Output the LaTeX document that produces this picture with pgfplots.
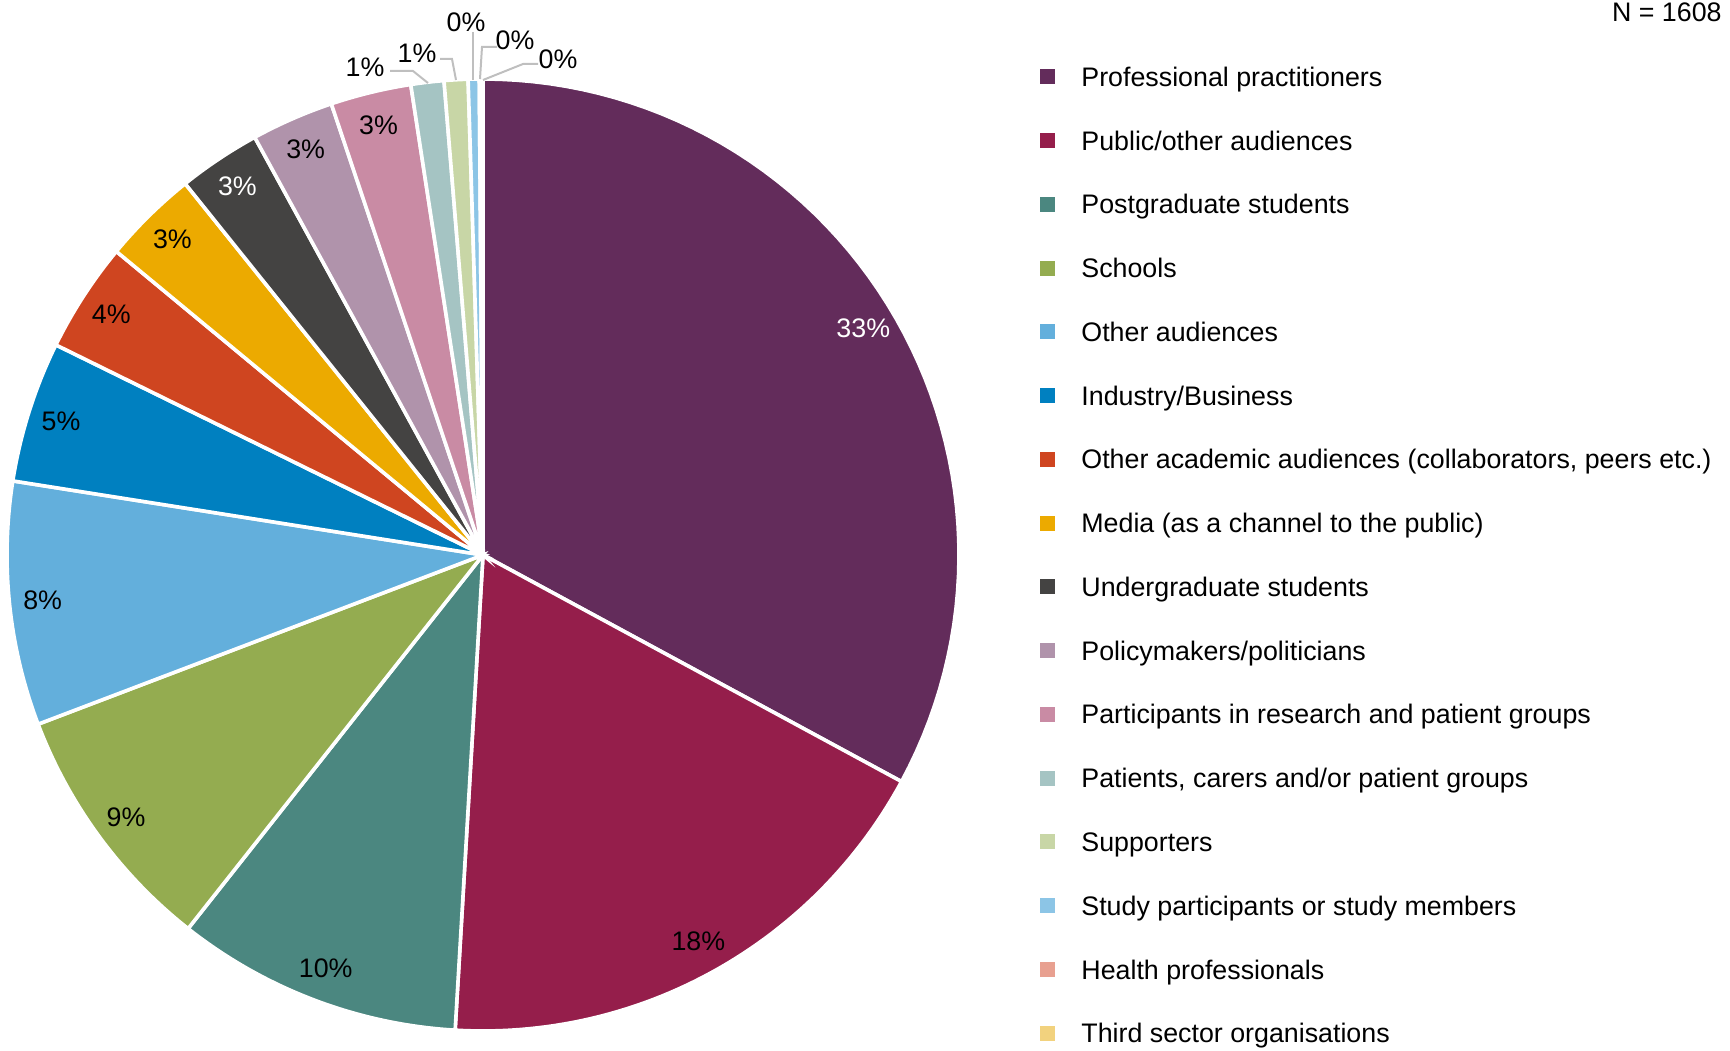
\documentclass[border=0pt]{standalone}
\usepackage{fontspec}
\setmainfont{Liberation Sans}
\usepackage{pgfplots}
\pgfplotsset{compat=1.18}
\usepackage{pgfplotstable}

\definecolor{c1}{HTML}{632C5B}
\definecolor{c2}{HTML}{951E4B}
\definecolor{c3}{HTML}{4B8780}
\definecolor{c4}{HTML}{94AC50}
\definecolor{c5}{HTML}{63AFDC}
\definecolor{c6}{HTML}{0080C0}
\definecolor{c7}{HTML}{CF4520}
\definecolor{c8}{HTML}{ECAA00}
\definecolor{c9}{HTML}{444342}
\definecolor{c10}{HTML}{B093AB}
\definecolor{c11}{HTML}{C98BA4}
\definecolor{c12}{HTML}{A5C4C3}
\definecolor{c13}{HTML}{C8D6A6}
\definecolor{c14}{HTML}{8CC5E6}
\definecolor{c15}{HTML}{E8A090}
\definecolor{c16}{HTML}{F2D27E}
\definecolor{leader}{HTML}{BFBFBF}

% counts out of N = 1608
\pgfplotstableread[col sep=semicolon,row sep=\\]{
name;n;pct;col;txt;inner\\
Professional practitioners;529;33;c1;white;1\\
Public/other audiences;290;18;c2;black;1\\
Postgraduate students;156;10;c3;black;1\\
Schools;138;9;c4;black;1\\
Other audiences;133;8;c5;black;1\\
Industry/Business;77;5;c6;black;1\\
Other academic audiences (collaborators, peers etc.);60;4;c7;black;1\\
Media (as a channel to the public);52;3;c8;black;1\\
Undergraduate students;45;3;c9;white;1\\
Policymakers/politicians;45;3;c10;black;1\\
Participants in research and patient groups;44;3;c11;black;1\\
Patients, carers and/or patient groups;18;1;c12;black;0\\
Supporters;13;1;c13;black;0\\
Study participants or study members;6;0;c14;black;0\\
Health professionals;1;0;c15;black;0\\
Third sector organisations;1;0;c16;black;0\\
}\pietable

\begin{document}
\begin{tikzpicture}[font=\fontsize{13.4}{16}\selectfont]
\useasboundingbox (0,0) rectangle (865pt,525pt);
\begin{axis}[x=238pt,y=238pt,xmin=-1,xmax=1,ymin=-1,ymax=1,
  hide axis,clip=false,anchor=south west,at={(3.5pt,9.5pt)}]
\def\cum{0}
\pgfplotsforeachungrouped \i in {0,...,15}{%
  \pgfplotstablegetelem{\i}{n}\of\pietable \let\val\pgfplotsretval
  \pgfplotstablegetelem{\i}{col}\of\pietable \let\col\pgfplotsretval
  \pgfplotstablegetelem{\i}{txt}\of\pietable \let\txt\pgfplotsretval
  \pgfplotstablegetelem{\i}{pct}\of\pietable \let\pct\pgfplotsretval
  \pgfplotstablegetelem{\i}{inner}\of\pietable \let\inner\pgfplotsretval
  \pgfmathsetmacro\aa{90-\cum/1608*360}%
  \pgfmathsetmacro\bb{90-(\cum+\val)/1608*360}%
  \pgfmathsetmacro\mid{(\aa+\bb)/2}%
  \pgfmathtruncatemacro\cum{\cum+\val}%
  \edef\cmd{\noexpand\addplot[draw=white,line width=1.8pt,fill=\col,
    domain=\bb:\aa,samples=60] ({cos(x)},{sin(x)}) -- (axis cs:0,0) -- cycle;}%
  \cmd
  \ifnum\inner=1
    \edef\cmd{\noexpand\node[text=\txt] at (axis cs:{0.93*cos(\mid)},{0.93*sin(\mid)}) {\pct\noexpand\%};}%
    \cmd
  \fi
}
\end{axis}

% labels of the thin slices, with leader lines
\draw[leader,line width=1pt] (195pt,489.5pt) -- (206.5pt,489.5pt) -- (214pt,483.5pt);
\node at (182.5pt,491.5pt) {1\%};
\draw[leader,line width=1pt] (220pt,495.5pt) -- (226pt,495.5pt) -- (228pt,485pt);
\node at (208.5pt,498.5pt) {1\%};
\draw[leader,line width=1pt] (236.5pt,509pt) -- (236.5pt,485pt);
\node at (233pt,514pt) {0\%};
\draw[leader,line width=1pt] (248.5pt,501.5pt) -- (241pt,501.5pt) -- (240pt,485.5pt);
\node at (257.5pt,505pt) {0\%};
\draw[leader,line width=1pt] (269pt,493pt) -- (261.5pt,493pt) -- (241.5pt,485pt);
\node at (279pt,495.5pt) {0\%};

\node[anchor=base east,inner sep=0pt] at (861pt,514.3pt) {N = 1608};

% legend
\pgfplotsforeachungrouped \i in {0,...,15}{%
  \pgfplotstablegetelem{\i}{name}\of\pietable \let\nm\pgfplotsretval
  \pgfplotstablegetelem{\i}{col}\of\pietable \let\cl\pgfplotsretval
  \pgfmathsetmacro\yc{486.6-31.88*\i}%
  \pgfmathsetmacro\ya{\yc-3.75}%
  \pgfmathsetmacro\yb{\yc+3.75}%
  \pgfmathsetmacro\yt{\yc-4.8}%
  \fill[\cl] (520pt,\ya pt) rectangle (527.5pt,\yb pt);
  \node[anchor=base west,inner sep=0pt] at (540.5pt,\yt pt) {\nm};
}
\end{tikzpicture}
\end{document}
